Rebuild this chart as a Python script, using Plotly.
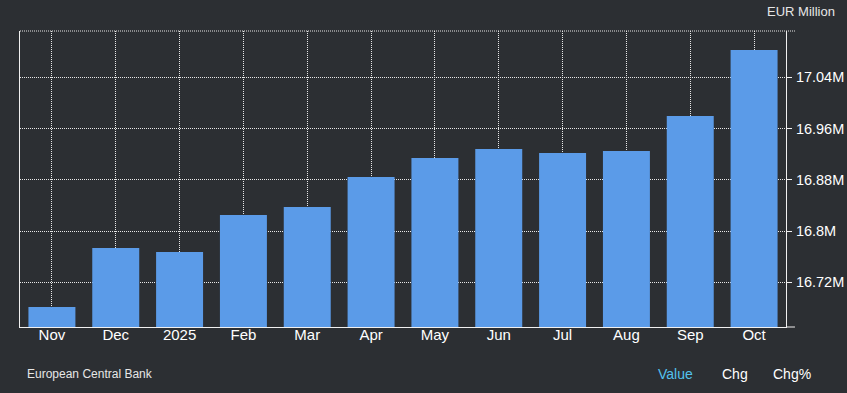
import plotly.graph_objects as go

categories = ["Nov", "Dec", "2025", "Feb", "Mar", "Apr", "May", "Jun", "Jul", "Aug", "Sep", "Oct"]
values = [16681400, 16773500, 16767300, 16825100, 16837500, 16884400,
          16914000, 16928000, 16921800, 16925000, 16979600, 17082600]
y_ticks = [16720000, 16800000, 16880000, 16960000, 17040000]
y_tick_labels = ["16.72M", "16.8M", "16.88M", "16.96M", "17.04M"]
y_range = [16650200, 17112300]

BG = "#2c2f33"
BAR = "#5b9be8"
FONT = "Liberation Sans, Arial, sans-serif"

fig = go.Figure(go.Bar(x=categories, y=values, marker=dict(color=BAR, line=dict(width=0)),
                       hoverinfo="x+y"))

fig.update_layout(
    width=847, height=393,
    margin=dict(l=20, r=61, t=31, b=66, autoexpand=False),
    paper_bgcolor=BG, plot_bgcolor=BG,
    bargap=0.264,
    showlegend=False,
    font=dict(family=FONT, color="#ffffff"),
)
fig.update_xaxes(
    type="category",
    showgrid=True, gridcolor="#e8e8e8", gridwidth=1, griddash="1px,1px",
    showline=True, linecolor="#f0f0f0", linewidth=1,
    ticks="", tickfont=dict(size=15, color="#ffffff"),
    ticklabelstandoff=-6,
    zeroline=False, automargin=False,
)
fig.update_yaxes(
    side="right", range=y_range,
    tickvals=y_ticks, ticktext=y_tick_labels,
    showgrid=True, gridcolor="#e8e8e8", gridwidth=1, griddash="1px,1px",
    showline=True, linecolor="#f0f0f0", linewidth=1, mirror=True,
    ticks="outside", ticklen=5, tickcolor="#f0f0f0",
    tickfont=dict(size=14.5, color="#ffffff"),
    ticklabelstandoff=1,
    zeroline=False, automargin=False,
)

# top dotted border and small extensions beyond right axis
fig.add_shape(type="line", xref="paper", yref="paper", x0=0, x1=1.0117, y0=1, y1=1,
              line=dict(color="#e8e8e8", width=1, dash="1px,1px"))
fig.add_shape(type="line", xref="paper", yref="paper", x0=1, x1=1.0117, y0=0, y1=0,
              line=dict(color="#f0f0f0", width=1))

def px_x(px):
    return (px - 20) / 766

def px_y(py):
    return (327 - py) / 296

fig.add_annotation(text="EUR Million", xref="paper", yref="paper", x=px_x(837), y=px_y(12),
                   xanchor="right", yanchor="middle", showarrow=False,
                   font=dict(size=13, color="#e6e6e6", family=FONT))
fig.add_annotation(text="European Central Bank", xref="paper", yref="paper", x=px_x(25), y=px_y(374),
                   xanchor="left", yanchor="middle", showarrow=False,
                   font=dict(size=12, color="#e6e6e6", family=FONT))
for label, left, color in [("Value", 656, "#52c2ee"), ("Chg", 720, "#ffffff"), ("Chg%", 771, "#ffffff")]:
    fig.add_annotation(text=label, xref="paper", yref="paper", x=px_x(left), y=px_y(374),
                       xanchor="left", yanchor="middle", showarrow=False,
                       font=dict(size=14, color=color, family=FONT))

# remove the default page margin so the figure fills the window exactly
fig.write_html("out.html",
               config={"displayModeBar": False},
               post_script="document.body.style.margin='0px';document.body.style.overflow='hidden';")
